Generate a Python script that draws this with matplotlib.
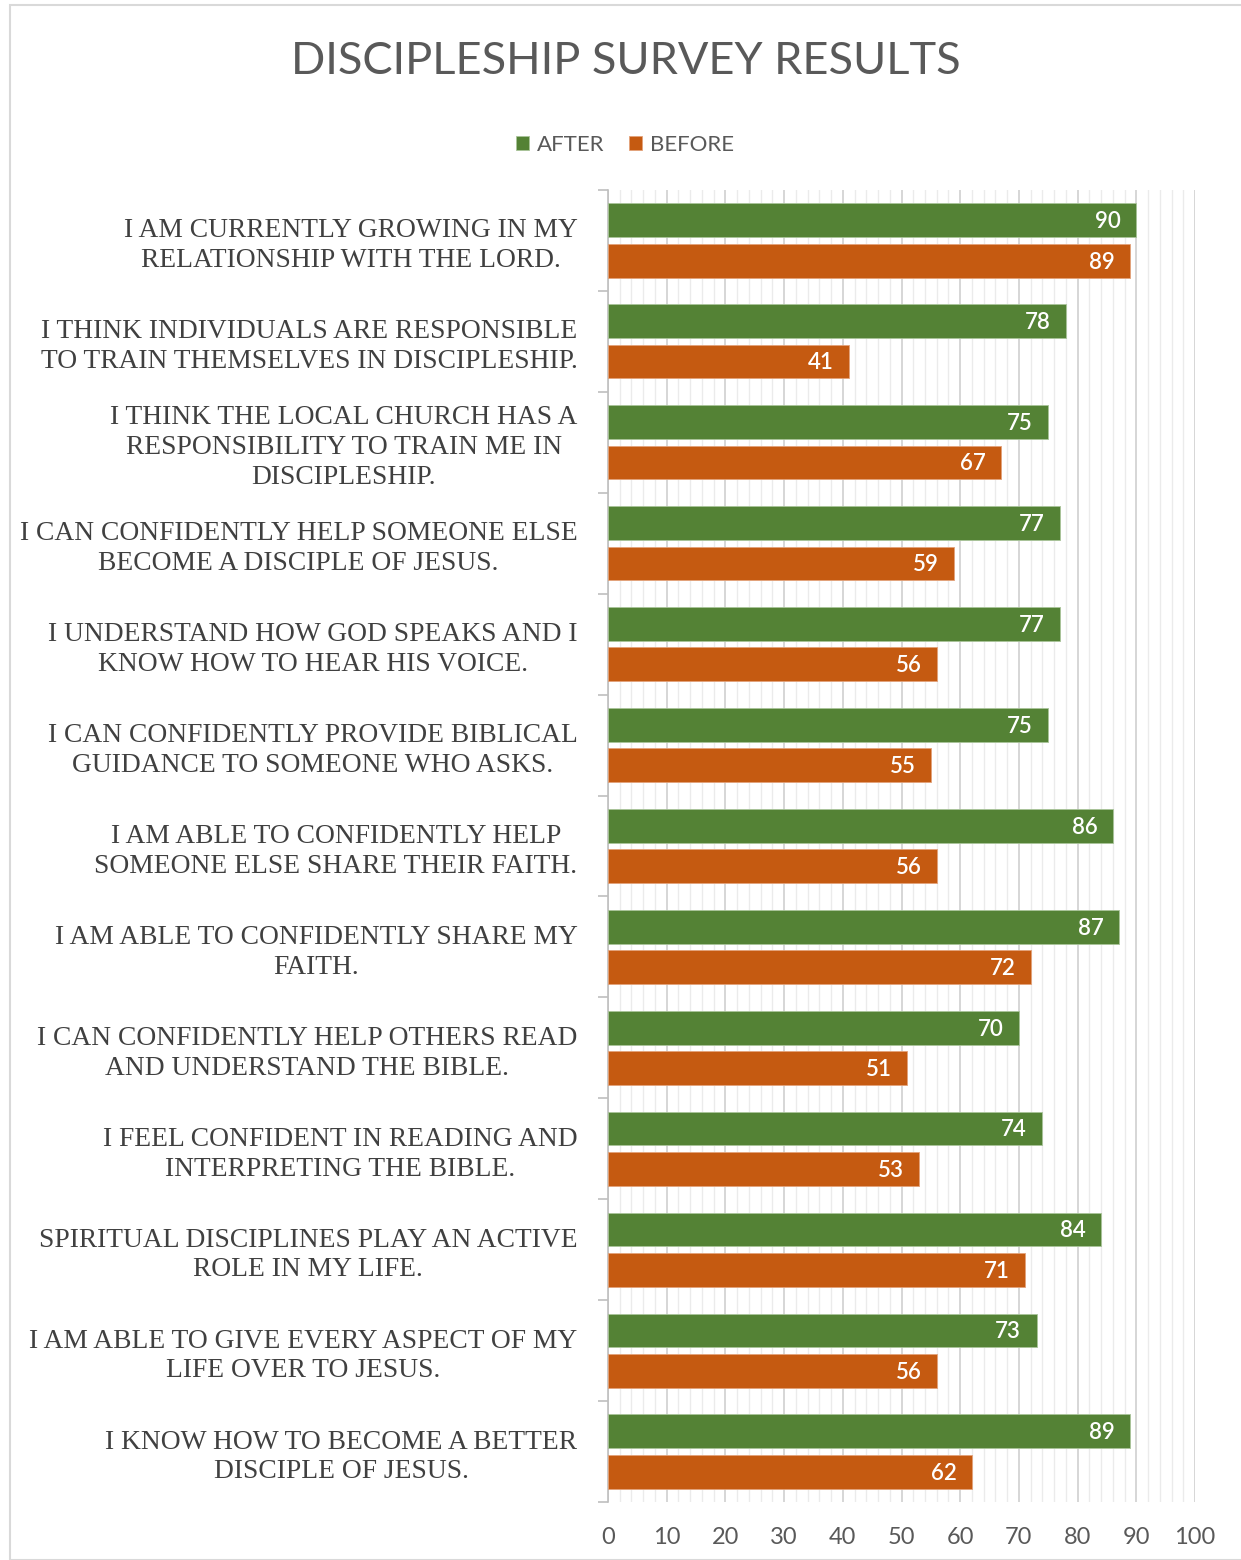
import matplotlib
matplotlib.use("Agg")
import matplotlib.pyplot as plt
import numpy as np
from matplotlib.patches import Rectangle
from matplotlib.ticker import MultipleLocator

# survey statements (top to bottom)
statements = [
    "I AM CURRENTLY GROWING IN MY\nRELATIONSHIP WITH THE LORD.",
    "I THINK INDIVIDUALS ARE RESPONSIBLE\nTO TRAIN THEMSELVES IN DISCIPLESHIP.",
    "I THINK THE LOCAL CHURCH HAS A\nRESPONSIBILITY TO TRAIN ME IN\nDISCIPLESHIP.",
    "I CAN CONFIDENTLY HELP SOMEONE ELSE\nBECOME A DISCIPLE OF JESUS.",
    "I UNDERSTAND HOW GOD SPEAKS AND I\nKNOW HOW TO HEAR HIS VOICE.",
    "I CAN CONFIDENTLY PROVIDE BIBLICAL\nGUIDANCE TO SOMEONE WHO ASKS.",
    "I AM ABLE TO CONFIDENTLY HELP\nSOMEONE ELSE SHARE THEIR FAITH.",
    "I AM ABLE TO CONFIDENTLY SHARE MY\nFAITH.",
    "I CAN CONFIDENTLY HELP OTHERS READ\nAND UNDERSTAND THE BIBLE.",
    "I FEEL CONFIDENT IN READING AND\nINTERPRETING THE BIBLE.",
    "SPIRITUAL DISCIPLINES PLAY AN ACTIVE\nROLE IN MY LIFE.",
    "I AM ABLE TO GIVE EVERY ASPECT OF MY\nLIFE OVER TO JESUS.",
    "I KNOW HOW TO BECOME A BETTER\nDISCIPLE OF JESUS.",
]
after = [90, 78, 75, 77, 77, 75, 86, 87, 70, 74, 84, 73, 89]
before = [89, 41, 67, 59, 56, 55, 56, 72, 51, 53, 71, 56, 62]
xticks = [0, 10, 20, 30, 40, 50, 60, 70, 80, 90, 100]

green = "#548235"
orange = "#C55A11"
txt_grey = "#595959"
sans = ["Lato", "DejaVu Sans"]

fig = plt.figure(figsize=(12.41, 15.6), dpi=100)
fig.patches.append(Rectangle((10 / 1241, 0), 1.2, 1 - 5 / 1560, transform=fig.transFigure,
                             fill=False, edgecolor="#d9d9d9", linewidth=1.5))

ax = fig.add_axes([608 / 1241, 1 - 1502 / 1560, 587 / 1241, 1312 / 1560])

n = len(statements)
y = np.arange(n)
h = 0.335
b1 = ax.barh(y - 0.2, after, height=h, color=green, edgecolor="#a9c49a", linewidth=0.6, label="AFTER", zorder=3)
b2 = ax.barh(y + 0.2, before, height=h, color=orange, edgecolor="#e3a27a", linewidth=0.6, label="BEFORE", zorder=3)

# value labels inside the bar ends
for vals, off in ((after, -0.2), (before, 0.2)):
    for i, v in enumerate(vals):
        ax.annotate(str(v), (v, i + off), xytext=(-11, -1), textcoords="offset points",
                    ha="right", va="center", color="white", fontsize=16, family=sans,
                    fontweight="semibold", zorder=4)

ax.set_xlim(0, 100)
ax.set_ylim(n - 0.5, -0.5)
ax.xaxis.set_minor_locator(MultipleLocator(2))
ax.set_xticks(xticks)
ax.grid(axis="x", which="major", color="#d0d0d0", linewidth=1.2, zorder=0)
ax.grid(axis="x", which="minor", color="#ebebeb", linewidth=1.0, zorder=0)
ax.tick_params(axis="x", which="both", length=0, pad=18, labelsize=17, labelcolor=txt_grey)
for t in ax.get_xticklabels():
    t.set_family(sans)

ax.set_yticks(y)
ax.set_yticklabels(statements, fontsize=19.8, family="Liberation Serif", color="#404040",
                   linespacing=1.25)
for t in ax.get_yticklabels():
    t.set_multialignment("center")
ax.set_yticks(np.arange(n + 1) - 0.5, minor=True)
ax.tick_params(axis="y", which="major", length=0, pad=22)
ax.tick_params(axis="y", which="minor", length=7, color="#bfbfbf", width=1.2)

for s in ["top", "right", "bottom"]:
    ax.spines[s].set_visible(False)
ax.spines["left"].set_color("#bfbfbf")
ax.spines["left"].set_linewidth(1.2)

fig.text(626 / 1241, 1 - 61 / 1560, "DISCIPLESHIP SURVEY RESULTS", ha="center", va="center",
         fontsize=32.5, color=txt_grey, family=sans)
fig.legend(handles=[b1, b2], loc="center", bbox_to_anchor=(625 / 1241, 1 - 145 / 1560), ncol=2,
           frameon=False, prop={"family": sans, "size": 16}, labelcolor=txt_grey,
           handlelength=0.6, handleheight=0.6, handletextpad=0.35, columnspacing=1.1)

fig.savefig("out.png", dpi=100, facecolor="white")
